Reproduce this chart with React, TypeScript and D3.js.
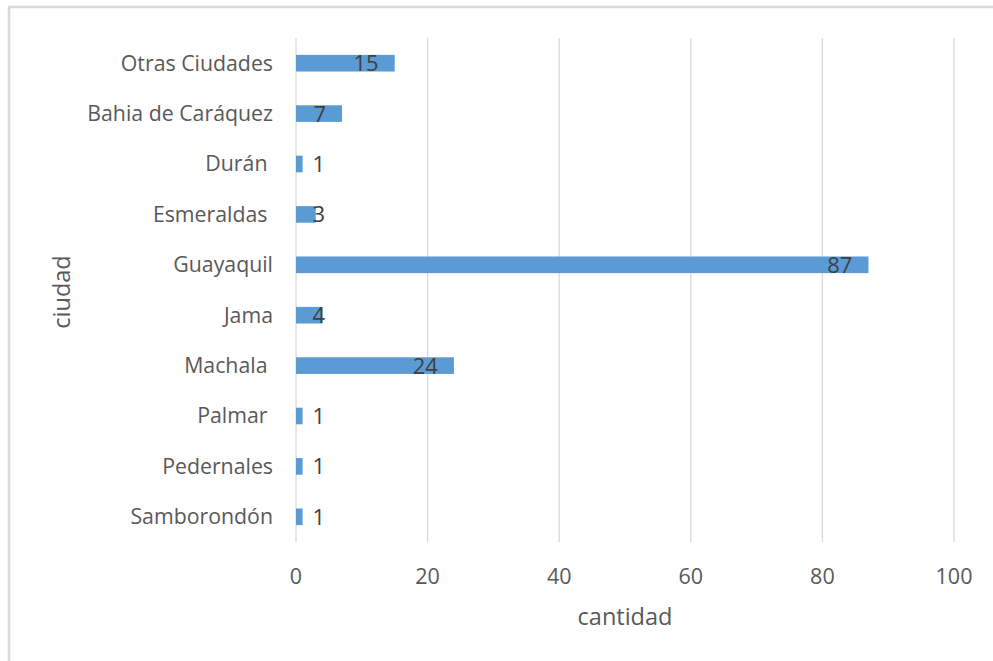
import React, { useEffect, useRef } from "react";
import * as d3 from "d3";

// categories from top to bottom, trailing spaces kept as in the source sheet
const ciudades = [
  "Otras Ciudades",
  "Bahia de Caráquez",
  "Durán ",
  "Esmeraldas ",
  "Guayaquil",
  "Jama",
  "Machala ",
  "Palmar ",
  "Pedernales",
  "Samborondón",
];
const cantidades = [15, 7, 1, 3, 87, 4, 24, 1, 1, 1];
const xTicks = [0, 20, 40, 60, 80, 100];

const W = 993;
const H = 661;
const FONT = "'Open Sans', 'Noto Sans', sans-serif";

const App = () => {
  const svgRef = useRef<SVGSVGElement>(null);

  useEffect(() => {
    const svg = d3.select(svgRef.current);
    svg.selectAll("*").remove();

    const plot = { left: 296, right: 954, top: 38, bottom: 542 };

    const x = d3.scaleLinear().domain([0, 100]).range([plot.left, plot.right]);
    const y = d3
      .scaleBand()
      .domain(ciudades)
      .range([plot.top, plot.bottom])
      .paddingInner(0.67)
      .paddingOuter(0.335);

    // outer frame
    svg
      .append("path")
      .attr("d", `M9,${H} L9,7 L${W},7`)
      .attr("fill", "none")
      .attr("stroke", "#d9d9d9")
      .attr("stroke-width", 2.5);

    // vertical gridlines
    svg
      .append("g")
      .selectAll("line")
      .data(xTicks)
      .enter()
      .append("line")
      .attr("x1", d => x(d))
      .attr("x2", d => x(d))
      .attr("y1", plot.top)
      .attr("y2", plot.bottom)
      .attr("stroke", "#d9d9d9")
      .attr("stroke-width", 1.3);

    // tick labels
    svg
      .append("g")
      .selectAll("text")
      .data(xTicks)
      .enter()
      .append("text")
      .attr("x", d => x(d))
      .attr("y", 584)
      .attr("text-anchor", "middle")
      .attr("font-family", FONT)
      .attr("font-size", 21.5)
      .attr("fill", "#595959")
      .text(d => d);

    // category labels
    svg
      .append("g")
      .selectAll("text")
      .data(ciudades)
      .enter()
      .append("text")
      .attr("x", 273)
      .attr("y", d => (y(d) as number) + y.bandwidth() / 2)
      .attr("dy", "0.35em")
      .attr("text-anchor", "end")
      .attr("font-family", FONT)
      .attr("font-size", 21.3)
      .attr("fill", "#595959")
      .style("white-space", "pre")
      .text(d => d);

    // bars
    svg
      .append("g")
      .selectAll("rect")
      .data(cantidades)
      .enter()
      .append("rect")
      .attr("x", x(0))
      .attr("y", (d, i) => y(ciudades[i]) as number)
      .attr("width", d => x(d) - x(0))
      .attr("height", y.bandwidth())
      .attr("fill", "#5b9bd5");

    // value labels (inside end, pushed out when the bar is too short)
    svg
      .append("g")
      .selectAll("text")
      .data(cantidades)
      .enter()
      .append("text")
      .attr("x", d => Math.max(x(d) - 16, x(0) + 29))
      .attr("y", (d, i) => (y(ciudades[i]) as number) + y.bandwidth() / 2)
      .attr("dy", "0.36em")
      .attr("text-anchor", "end")
      .attr("font-family", FONT)
      .attr("font-size", 22)
      .attr("fill", "#404040")
      .text(d => d);

    // axis titles
    svg
      .append("text")
      .attr("x", 625)
      .attr("y", 625)
      .attr("text-anchor", "middle")
      .attr("font-family", FONT)
      .attr("font-size", 23.5)
      .attr("fill", "#595959")
      .text("cantidad");

    svg
      .append("text")
      .attr("transform", "translate(70,292) rotate(-90)")
      .attr("text-anchor", "middle")
      .attr("font-family", FONT)
      .attr("font-size", 23.5)
      .attr("fill", "#595959")
      .text("ciudad");
  }, []);

  return (
    <svg
      ref={svgRef}
      width={W}
      height={H}
      style={{ position: "absolute", left: 0, top: 0, background: "#fff" }}
    />
  );
};

export default App;
